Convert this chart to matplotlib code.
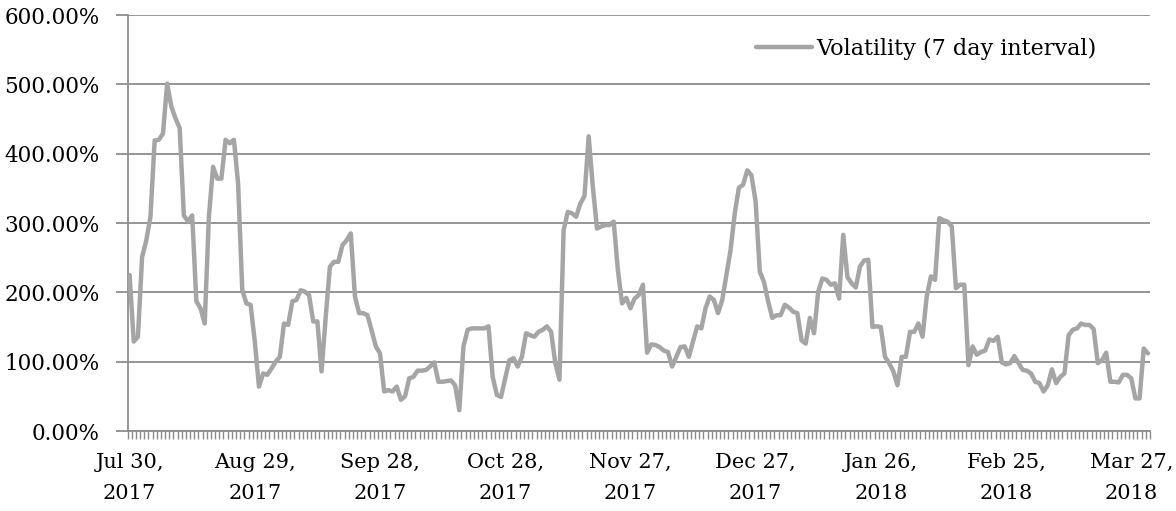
import numpy as np
import matplotlib
matplotlib.use("Agg")
import matplotlib.pyplot as plt
from matplotlib.ticker import FixedLocator, FuncFormatter

# daily 7-day volatility, Jul 30 2017 .. Mar 31 2018 (percent)
volatility = [
    225, 129, 136, 251, 275, 309, 419, 420, 429, 501,
    468, 451, 437, 311, 302, 311, 187, 177, 155, 309,
    381, 364, 364, 420, 415, 420, 357, 203, 184, 182,
    129, 64, 83, 81, 90, 100, 107, 155, 153, 187,
    189, 203, 201, 196, 158, 158, 86, 165, 237, 244,
    244, 268, 275, 285, 194, 170, 170, 167, 145, 122,
    112, 57, 59, 57, 64, 45, 50, 76, 78, 87,
    87, 88, 93, 99, 71, 71, 72, 73, 66, 30,
    122, 146, 148, 148, 148, 148, 151, 78, 52, 49,
    76, 102, 105, 93, 107, 141, 138, 136, 143, 146,
    151, 143, 98, 74, 290, 316, 314, 309, 328, 339,
    425, 352, 292, 295, 297, 297, 302, 232, 184, 192,
    177, 191, 196, 211, 113, 125, 124, 121, 116, 114,
    93, 107, 121, 122, 107, 129, 151, 148, 177, 194,
    189, 170, 189, 225, 261, 314, 351, 355, 376, 369,
    331, 230, 215, 187, 163, 167, 167, 182, 178, 172,
    170, 131, 126, 163, 141, 201, 220, 218, 211, 213,
    191, 283, 222, 213, 207, 237, 246, 247, 150, 151,
    150, 107, 98, 86, 66, 107, 107, 143, 143, 155,
    136, 194, 223, 218, 307, 304, 302, 295, 206, 211,
    211, 95, 122, 110, 114, 116, 132, 130, 136, 99,
    96, 98, 108, 98, 88, 87, 83, 71, 69, 57,
    66, 89, 69, 78, 83, 138, 146, 148, 155, 153,
    153, 147, 98, 102, 113, 71, 71, 70, 81, 81,
    76, 47, 47, 119, 112,
]

# a label every 30 days
label_days = [0, 30, 60, 90, 120, 150, 180, 210, 240]
date_labels = ["Jul 30,\n2017", "Aug 29,\n2017", "Sep 28,\n2017",
               "Oct 28,\n2017", "Nov 27,\n2017", "Dec 27,\n2017",
               "Jan 26,\n2018", "Feb 25,\n2018", "Mar 27,\n2018"]
y_ticks = [0, 100, 200, 300, 400, 500, 600]

plt.rcParams['font.family'] = ['DejaVu Serif']
axis_grey = '#8c8c8c'

fig = plt.figure(figsize=(11.76, 5.11), dpi=100)
ax = fig.add_axes([127.5 / 1176, 1 - 431 / 511, (1150 - 127.5) / 1176, (431 - 15) / 511])

days = np.arange(len(volatility))
ax.plot(days, volatility, color='#a5a5a5', lw=3.2, solid_joinstyle='round',
        solid_capstyle='round', label='Volatility (7 day interval)', zorder=3)

ax.set_xlim(-0.5, len(volatility) - 0.5)
ax.set_ylim(0, 600)

ax.yaxis.set_major_locator(FixedLocator(y_ticks))
ax.yaxis.set_major_formatter(FuncFormatter(lambda v, p: '%.2f%%' % v))
ax.yaxis.grid(True, color=axis_grey, lw=1.3)
ax.set_axisbelow(True)

ax.set_xticks(label_days)
ax.set_xticklabels(date_labels)
for lbl in ax.get_xticklabels():
    lbl.set_linespacing(1.85)
ax.xaxis.set_minor_locator(FixedLocator(np.arange(-0.5, len(volatility), 1.0)))

ax.tick_params(axis='x', which='major', length=0, pad=15.5, labelsize=15)
ax.tick_params(axis='x', which='minor', length=6, width=1, color=axis_grey)
ax.tick_params(axis='y', length=9, width=1.3, color=axis_grey, pad=11, labelsize=15.5)

for side in ['top', 'right']:
    ax.spines[side].set_visible(False)
for side in ['left', 'bottom']:
    ax.spines[side].set_color(axis_grey)
    ax.spines[side].set_linewidth(1.3)

ax.legend(loc='center right', bbox_to_anchor=(1097 / 1176, 1 - 49 / 511),
          bbox_transform=fig.transFigure, frameon=False, borderpad=0,
          borderaxespad=0, handlelength=2.5, handletextpad=0.22, fontsize=16)

fig.savefig('out.png', dpi=100)
